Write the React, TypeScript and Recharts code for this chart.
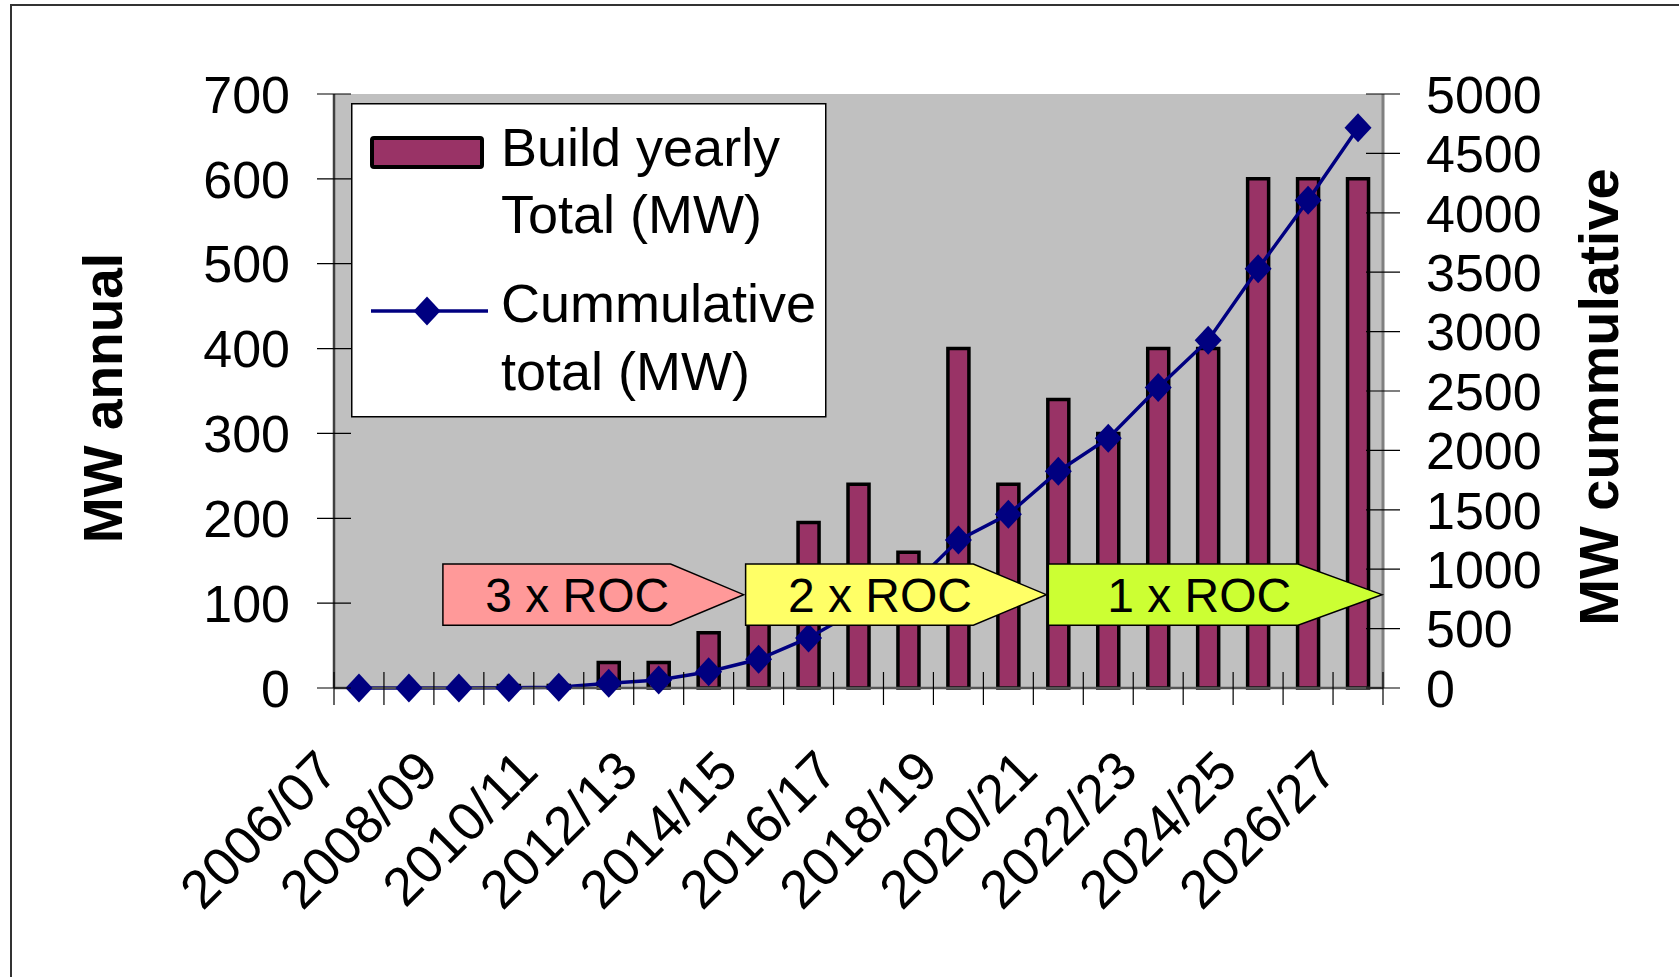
import {
  Bar,
  CartesianGrid,
  ComposedChart,
  Legend,
  Line,
  ReferenceArea,
  XAxis,
  YAxis,
} from "recharts";

const years = [
  "2006/07", "2007/08", "2008/09", "2009/10", "2010/11", "2011/12", "2012/13",
  "2013/14", "2014/15", "2015/16", "2016/17", "2017/18", "2018/19", "2019/20",
  "2020/21", "2021/22", "2022/23", "2023/24", "2024/25", "2025/26", "2026/27",
];
const buildYearly = [
  0, 0, 0, 3, 3, 30, 30, 65, 100, 195, 240, 160, 400, 240, 340, 300, 400, 400,
  600, 600, 600,
];
const cumulative = [
  0, 0, 0, 3, 6, 40, 68, 137, 242, 421, 660, 830, 1245, 1462, 1825, 2103, 2530,
  2928, 3530, 4105, 4715,
];
const annualTicks = [0, 100, 200, 300, 400, 500, 600, 700];
const cumulativeTicks = [
  0, 500, 1000, 1500, 2000, 2500, 3000, 3500, 4000, 4500, 5000,
];
const barName = ["Build yearly", "Total (MW)"];
const lineName = ["Cummulative", "total (MW)"];

// ROC bands drawn as arrows over the plot
const rocLabels = ["3 x ROC", "2 x ROC", "1 x ROC"];
const rocFrom = ["2008/09", "2014/15", "2020/21"];
const rocTo = ["2013/14", "2019/20", "2026/27"];
const rocLow = 74;
const rocHigh = 146;

const rocStyle = [
  { fill: "#FF9999", nudgeL: 9, nudgeR: 10, tip: 73 },
  { fill: "#FFFF66", nudgeL: 12, nudgeR: 13, tip: 73 },
  { fill: "#CCFF33", nudgeL: 15, nudgeR: -1, tip: 84 },
];

const data = years.map((year, i) => ({
  year,
  build: buildYearly[i],
  cumulative: cumulative[i],
}));

const FONT = "'Liberation Sans', Arial, Helvetica, sans-serif";
const PLOT_W = 1049;
const HALF_BAND = PLOT_W / years.length / 2;

function YearTick(props: any) {
  const { x, y, payload, index } = props;
  const lx = x - 32;
  const ly = y + 72;
  return (
    <g>
      <line x1={x - HALF_BAND} x2={x - HALF_BAND} y1={y - 16} y2={y + 17} stroke="#000" strokeWidth={1.2} />
      {index === years.length - 1 && (
        <line x1={x + HALF_BAND} x2={x + HALF_BAND} y1={y - 16} y2={y + 17} stroke="#000" strokeWidth={1.2} />
      )}
      {index % 2 === 0 && (
        <text
          x={lx}
          y={ly}
          dy="0.36em"
          textAnchor="end"
          transform={`rotate(-45 ${lx} ${ly})`}
          fontSize={54}
          fontFamily={FONT}
          fill="#000"
        >
          {payload.value}
        </text>
      )}
    </g>
  );
}

function AnnualTick({ x, y, payload }: any) {
  return (
    <g>
      <line x1={x - 17} x2={x + 17} y1={y} y2={y} stroke="#000" strokeWidth={1.2} />
      <text x={x - 44} y={y} dy="0.36em" textAnchor="end" fontSize={52} fontFamily={FONT} fill="#000">
        {payload.value}
      </text>
    </g>
  );
}

function CumulativeTick({ x, y, payload }: any) {
  return (
    <g>
      <line x1={x - 17} x2={x + 17} y1={y} y2={y} stroke="#000" strokeWidth={1.2} />
      <text x={x + 43} y={y} dy="0.36em" textAnchor="start" fontSize={52} fontFamily={FONT} fill="#000">
        {payload.value}
      </text>
    </g>
  );
}

function Diamond({ cx, cy, index }: any) {
  if (cx == null || cy == null) return <g key={index} />;
  return (
    <polygon
      key={index}
      points={`${cx},${cy - 14.5} ${cx + 13.5},${cy} ${cx},${cy + 14.5} ${cx - 13.5},${cy}`}
      fill="#000080"
    />
  );
}

function rocArrow(i: number) {
  return (props: any) => {
    const { x, y, width, height } = props;
    const s = rocStyle[i];
    const L = x + s.nudgeL;
    const R = x + width + s.nudgeR;
    const E = R - s.tip;
    const T = y;
    const B = y + height;
    const M = (T + B) / 2;
    return (
      <g>
        <polygon
          points={`${L},${T} ${E},${T} ${R},${M} ${E},${B} ${L},${B}`}
          fill={s.fill}
          stroke="#000"
          strokeWidth={1.5}
        />
        <text
          x={(L + R) / 2 - 16}
          y={M}
          dy="0.36em"
          textAnchor="middle"
          fontSize={48}
          fontFamily={FONT}
          fill="#000"
        >
          {rocLabels[i]}
        </text>
      </g>
    );
  };
}

function LegendBox() {
  return (
    <svg width={476} height={315} style={{ display: "block" }}>
      <rect x={0.75} y={0.75} width={474} height={313} fill="#fff" stroke="#000" strokeWidth={1.5} />
      <rect x={21} y={35} width={110} height={29} rx={2} fill="#993366" stroke="#000" strokeWidth={4} />
      <line x1={20} x2={137} y1={208} y2={208} stroke="#000080" strokeWidth={3.5} />
      <polygon points="76,193.5 89.5,208 76,222.5 62.5,208" fill="#000080" />
      <g fontSize={54} fontFamily={FONT} fill="#000">
        <text x={150} y={63}>{barName[0]}</text>
        <text x={150} y={130}>{barName[1]}</text>
        <text x={150} y={219}>{lineName[0]}</text>
        <text x={150} y={287}>{lineName[1]}</text>
      </g>
    </svg>
  );
}

export default function App() {
  return (
    <div style={{ position: "absolute", left: 0, top: 0, width: 1679, height: 977, background: "#fff" }}>
      <div
        style={{
          position: "absolute",
          left: 10,
          top: 4,
          width: 1669,
          height: 973,
          boxSizing: "border-box",
          borderTop: "2px solid #333",
          borderLeft: "2px solid #333",
        }}
      />
      <div style={{ position: "absolute", left: 0, top: 0 }}>
        <ComposedChart
          width={1679}
          height={977}
          data={data}
          margin={{ top: 94, right: 0, bottom: 0, left: 0 }}
          barCategoryGap="29%"
        >
          <CartesianGrid horizontal={false} vertical={false} fill="#C0C0C0" />
          <XAxis
            dataKey="year"
            height={289}
            interval={0}
            tickSize={0}
            tickMargin={0}
            tickLine={false}
            axisLine={{ stroke: "#555", strokeWidth: 2.5 }}
            tick={<YearTick />}
          />
          <XAxis
            xAxisId="top"
            orientation="top"
            dataKey="year"
            height={0}
            tick={false}
            tickLine={false}
            axisLine={{ stroke: "#808080", strokeWidth: 2.5 }}
          />
          <YAxis
            yAxisId="left"
            width={334}
            domain={[0, 700]}
            ticks={annualTicks}
            interval={0}
            tickSize={0}
            tickMargin={0}
            tickLine={false}
            axisLine={{ stroke: "#404040", strokeWidth: 2.5 }}
            tick={<AnnualTick />}
            label={() => (
              <text
                transform="translate(102,398) rotate(-90)"
                dy="0.36em"
                textAnchor="middle"
                fontSize={55}
                fontWeight="bold"
                fontFamily={FONT}
                fill="#000"
              >
                MW annual
              </text>
            )}
          />
          <YAxis
            yAxisId="right"
            orientation="right"
            width={296}
            domain={[0, 5000]}
            ticks={cumulativeTicks}
            interval={0}
            tickSize={0}
            tickMargin={0}
            tickLine={false}
            axisLine={{ stroke: "#808080", strokeWidth: 3 }}
            tick={<CumulativeTick />}
            label={() => (
              <text
                transform="translate(1598,397) rotate(-90)"
                dy="0.36em"
                textAnchor="middle"
                fontSize={56}
                fontWeight="bold"
                fontFamily={FONT}
                fill="#000"
              >
                MW cummulative
              </text>
            )}
          />
          <Legend
            layout="vertical"
            align="center"
            verticalAlign="middle"
            content={() => <LegendBox />}
            wrapperStyle={{ left: 351, top: 103, width: 476, height: 315 }}
          />
          <Bar
            yAxisId="left"
            dataKey="build"
            name={barName.join(" ")}
            fill="#993366"
            stroke="#000"
            strokeWidth={3.5}
            isAnimationActive={false}
          />
          <Line
            yAxisId="right"
            type="linear"
            dataKey="cumulative"
            name={lineName.join(" ")}
            stroke="#000080"
            strokeWidth={3.5}
            dot={Diamond}
            activeDot={false}
            isAnimationActive={false}
          />
          {rocLabels.map((label, i) => (
            <ReferenceArea
              key={label}
              yAxisId="left"
              x1={rocFrom[i]}
              x2={rocTo[i]}
              y1={rocLow}
              y2={rocHigh}
              ifOverflow="visible"
              shape={rocArrow(i)}
              zIndex={1500}
            />
          ))}
        </ComposedChart>
      </div>
    </div>
  );
}
